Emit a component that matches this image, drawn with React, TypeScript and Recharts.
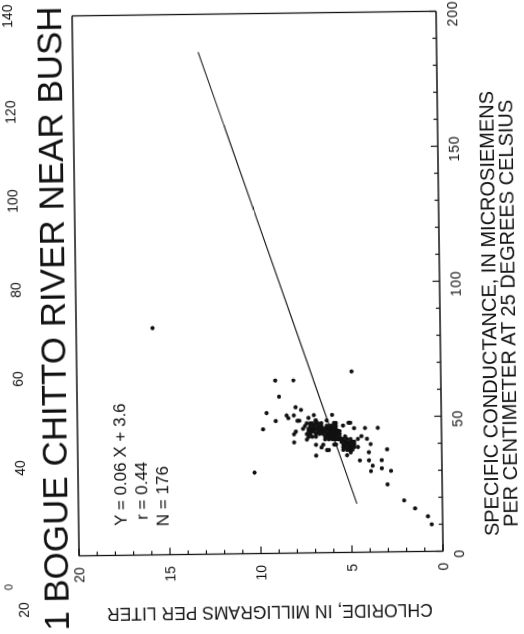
import React from 'react';
import { ScatterChart, Scatter, XAxis, YAxis } from 'recharts';

// Specific conductance (µS/cm at 25 °C) of each sample
const conductance = [
  84, 67, 64, 64, 58, 52, 46, 30, 49, 51, 51, 54, 53, 44, 41, 49, 50, 51, 51, 48,
  48, 46, 46, 46, 36, 39, 38, 43, 47, 48, 40, 37, 38, 34, 34, 32, 34, 31, 30, 30,
  25, 36, 39, 39, 42, 41, 19, 16, 13, 10,
  50, 49, 46, 45, 42, 40, 40, 38, 40, 40, 38, 37, 42, 43, 42, 48, 47, 48, 49, 48,
  49, 46,
  48, 46, 48, 47, 48, 46, 45, 44, 45, 45, 44, 43, 44, 46, 46, 49,
  47, 47, 45, 46, 44, 47, 48, 45, 43, 46,
  46, 46, 46, 45, 46, 45, 45, 44, 44, 44, 44, 43, 42, 42, 42, 42, 44, 44, 43, 47,
  47, 45, 45,
  43, 43, 43, 44, 44, 45, 45, 45, 46, 46, 46, 47, 47, 42, 42, 43, 44, 46, 45, 43,
  42, 42, 42, 41, 41, 41, 40, 40, 39, 39, 39, 38, 38, 38, 41, 39, 41, 40,
  40, 40, 39, 41, 42, 40, 39, 38, 41, 43,
];

// Chloride (mg/L) of each sample, same order as conductance
const chloride = [
  15.8, 4.9, 9.1, 8.1, 8.9, 9.6, 9.8, 10.3, 9.1, 8.5, 8.1, 8.0, 7.7, 8.1, 8.1, 7.8, 7.3, 7.0, 6.0, 5.9,
  5.1, 4.8, 4.2, 3.5, 6.9, 6.6, 6.2, 7.3, 7.5, 7.2, 3.9, 4.0, 3.0, 4.5, 4.0, 3.8, 3.3, 3.3, 3.9, 2.8,
  3.0, 5.2, 4.9, 4.6, 5.6, 5.3, 2.1, 1.5, 0.8, 0.6,
  8.4, 7.9, 7.6, 8.0, 7.4, 6.9, 6.5, 6.3, 5.9, 5.8, 5.4, 5.0, 4.6, 4.4, 4.1, 5.0, 5.4, 5.8, 6.3, 6.6,
  6.9, 7.1,
  7.4, 7.3, 7.1, 7.0, 6.8, 6.6, 7.3, 7.2, 7.0, 6.8, 6.7, 7.1, 7.4, 6.7, 7.2, 6.9,
  7.2, 6.8, 7.1, 7.0, 6.9, 6.6, 6.9, 6.6, 6.9, 6.9,
  6.5, 6.3, 6.1, 6.0, 5.8, 5.6, 6.4, 6.2, 6.1, 5.9, 5.7, 6.3, 6.2, 6.0, 5.9, 5.7, 5.6, 6.5, 6.1, 6.0,
  6.3, 5.8, 6.1,
  5.8, 6.0, 6.4, 6.0, 6.3, 5.9, 6.2, 6.5, 5.9, 6.2, 6.4, 5.8, 6.1, 6.4, 5.8, 5.6, 5.8, 6.0, 5.7, 6.2,
  5.5, 5.4, 5.2, 5.0, 4.9, 5.5, 5.3, 5.1, 5.0, 4.8, 5.4, 5.2, 5.1, 4.9, 5.3, 5.1, 5.0, 4.8,
  5.0, 5.2, 5.3, 5.2, 5.0, 5.4, 4.9, 5.0, 4.8, 5.3,
];

// End points of the fitted regression line
const fitConductance = [18, 186];
const fitChloride = [4.7, 13.1];

const conductanceTicks = [0, 10, 20, 30, 40, 50, 60, 70, 80, 90, 100, 110, 120, 130, 140, 150, 160, 170, 180, 190, 200];
const chlorideTicks = [0, 1, 2, 3, 4, 5, 6, 7, 8, 9, 10, 11, 12, 13, 14, 15, 16, 17, 18, 19, 20];

const titleText = 'BOGUE CHITTO RIVER NEAR BUSH';
const figureNumber = '1';
const regressionLines = ['Y = 0.06 X + 3.6', 'r = 0.44', 'N = 176'];
const xTitleLines = ['SPECIFIC CONDUCTANCE, IN MICROSIEMENS', 'PER CENTIMETER AT 25 DEGREES CELSIUS'];
const yTitle = 'CHLORIDE, IN MILLIGRAMS PER LITER';
const neighbourLabels = ['140', '120', '100', '80', '60', '40', '20', '0'];

const samples = conductance.map((c, i) => ({ cond: c, cl: chloride[i] }));
const fitLine = fitConductance.map((c, i) => ({ cond: c, cl: fitChloride[i] }));

const FONT = '"Liberation Sans", Arial, Helvetica, sans-serif';
const INK = '#111';

const W = 634;
const H = 524;

function AxisTick(props: any) {
  const { x, y, payload, side, step, labelled } = props;
  const value = payload.value as number;
  const major = value % step === 0;
  const len = major ? 7 : 4;
  let line: React.ReactNode = null;
  let label: React.ReactNode = null;
  if (side === 'bottom') {
    line = <line x1={x} y1={y} x2={x} y2={y - len} />;
    if (labelled && major)
      label = (
        <text x={x - 2.5} y={y + 21} textAnchor="middle" fontSize={14} letterSpacing={0.8} fontFamily={FONT} fill={INK}>
          {value}
        </text>
      );
  } else if (side === 'top') {
    line = <line x1={x} y1={y} x2={x} y2={y + len} />;
  } else if (side === 'left') {
    line = <line x1={x} y1={y} x2={x + len} y2={y} />;
    if (labelled && major)
      label = (
        <text x={x - 11.5} y={y + 5} textAnchor="end" fontSize={14} fontFamily={FONT} fill={INK}>
          {value}
        </text>
      );
  } else {
    line = <line x1={x} y1={y} x2={x - len} y2={y} />;
  }
  return (
    <g>
      <g stroke={INK} strokeWidth={1.2}>{line}</g>
      {label}
    </g>
  );
}

const axisLine = { stroke: INK, strokeWidth: 1.3 };

// label positions for the cut-off neighbouring axis along the page edge
const neighbourPos = [
  { u: 621, v: 16 },
  { u: 525, v: 17.5 },
  { u: 436, v: 19 },
  { u: 347, v: 20.5 },
  { u: 258, v: 22 },
  { u: 169, v: 23 },
  { u: 27, v: 25 },
  { u: 50, v: 9 },
];

export default function App() {
  return (
    <div
      style={{
        position: 'fixed',
        left: -55,
        top: 55,
        width: W,
        height: H,
        background: '#fff',
        transform: 'rotate(-90.74deg)',
        transformOrigin: `${W / 2}px ${H / 2}px`,
      }}
    >
      <ScatterChart width={W} height={H} margin={{ top: 75, right: 12.5, bottom: 83, left: 79.5 }}>
        <XAxis
          type="number"
          dataKey="cond"
          domain={[0, 200]}
          ticks={conductanceTicks}
          interval={0}
          height={1}
          tickSize={0}
          tickMargin={0}
          tickLine={false}
          axisLine={axisLine}
          tick={(p: any) => <AxisTick {...p} side="bottom" step={50} labelled />}
        />
        <XAxis
          xAxisId="top"
          orientation="top"
          type="number"
          dataKey="cond"
          domain={[0, 200]}
          ticks={conductanceTicks}
          interval={0}
          height={1}
          tickSize={0}
          tickMargin={0}
          tickLine={false}
          axisLine={axisLine}
          tick={(p: any) => <AxisTick {...p} side="top" step={50} />}
        />
        <YAxis
          type="number"
          dataKey="cl"
          domain={[0, 20]}
          ticks={chlorideTicks}
          interval={0}
          width={1}
          tickSize={0}
          tickMargin={0}
          tickLine={false}
          axisLine={axisLine}
          tick={(p: any) => <AxisTick {...p} side="left" step={5} labelled />}
        />
        <YAxis
          yAxisId="right"
          orientation="right"
          type="number"
          dataKey="cl"
          domain={[0, 20]}
          ticks={chlorideTicks}
          interval={0}
          width={1}
          tickSize={0}
          tickMargin={0}
          tickLine={false}
          axisLine={axisLine}
          tick={(p: any) => <AxisTick {...p} side="right" step={5} />}
        />
        <Scatter
          data={fitLine}
          isAnimationActive={false}
          line={{ stroke: INK, strokeWidth: 1.1 }}
          shape={() => <g />}
        />
        <Scatter
          data={samples}
          isAnimationActive={false}
          shape={(p: any) => <circle cx={p.cx} cy={p.cy} r={2.1} fill={INK} />}
        />
      </ScatterChart>
      <svg
        width={W}
        height={H}
        style={{ position: 'absolute', left: 0, top: 0, pointerEvents: 'none' }}
        fontFamily={FONT}
        fill={INK}
      >
        <text x={6} y={65} fontSize={35}>{figureNumber}</text>
        <text x={34} y={65} fontSize={35}>{titleText}</text>
        {neighbourLabels.map((t, i) => (
          <text key={t + i} x={neighbourPos[i].u} y={neighbourPos[i].v} fontSize={i === 7 ? 11 : 14} textAnchor="middle">
            {t}
          </text>
        ))}
        <text x={110} y={124} fontSize={17}>{regressionLines[0]}</text>
        <text x={115.7} y={145} fontSize={17}>{regressionLines[1]}</text>
        <text x={109.1} y={166} fontSize={17}>{regressionLines[2]}</text>
        <text x={317.5} y={496} fontSize={20} textAnchor="middle">{xTitleLines[0]}</text>
        <text x={317.5} y={514.5} fontSize={20} textAnchor="middle">{xTitleLines[1]}</text>
        <text x={27.5} y={266} fontSize={17.5} textAnchor="middle" transform="rotate(-90 27.5 266)">
          {yTitle}
        </text>
      </svg>
    </div>
  );
}
